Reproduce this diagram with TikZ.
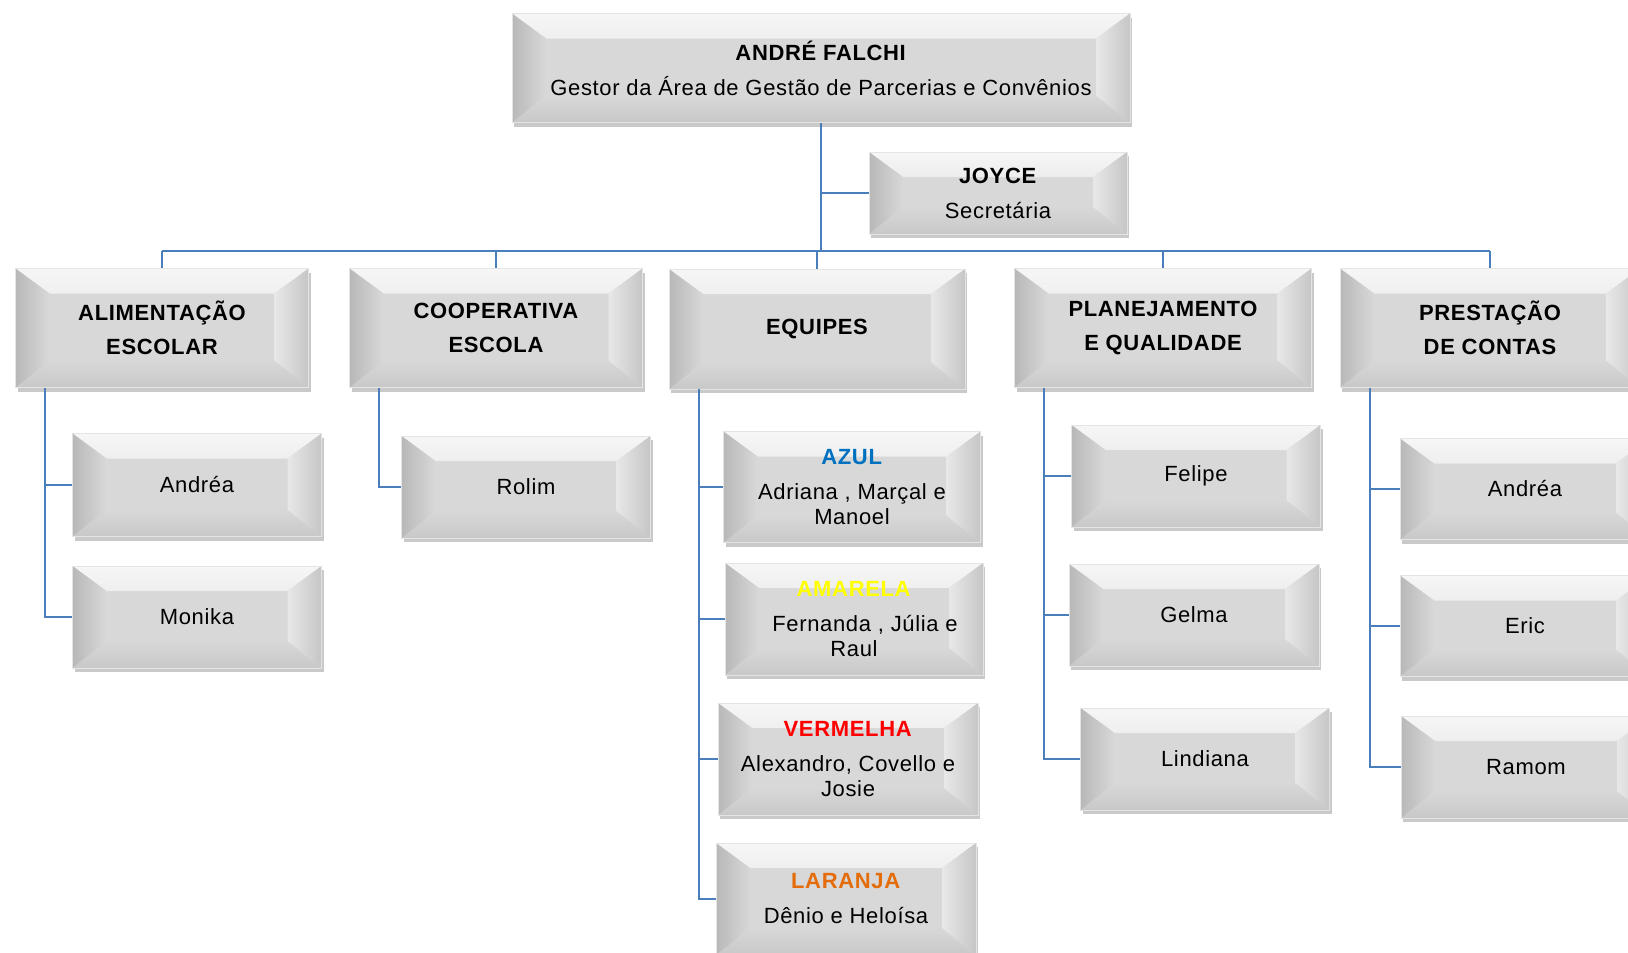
\documentclass[tikz,border=0pt]{standalone}
\usepackage{fontspec}
\setmainfont{Liberation Sans}[LetterSpace=3]
\usetikzlibrary{positioning,shadows}

\definecolor{bevface}{RGB}{216,216,216}
\definecolor{bevtop}{RGB}{246,246,246}
\definecolor{bevdark}{RGB}{184,184,184}
\definecolor{bevright}{RGB}{198,198,198}
\definecolor{bevbot}{RGB}{200,200,200}
\definecolor{bevline}{RGB}{228,228,228}
\definecolor{connblue}{RGB}{74,126,187}
\definecolor{azul}{RGB}{0,112,192}
\definecolor{amarela}{RGB}{255,255,0}
\definecolor{vermelha}{RGB}{255,0,0}
\definecolor{laranja}{RGB}{228,108,10}

\begin{document}
\begin{tikzpicture}[x=1pt,y=-1pt,
  boxsize/.style 2 args={minimum width=#1pt,minimum height=#2pt},
  bevel/.style={rectangle,fill=bevface,draw=bevline,line width=0.8pt,align=center,inner sep=0pt,
    font={\fontsize{22}{25}\selectfont},
    drop shadow={shadow xshift=2pt,shadow yshift=-4pt,opacity=0.3,fill=black!70},
    path picture={
      % top, bottom, left and right faces of the bevel
      \shade[top color=bevtop,bottom color=bevface] (path picture bounding box.north west)
        -- (path picture bounding box.north east)
        -- ([shift={(-34pt,-25pt)}]path picture bounding box.north east)
        -- ([shift={(34pt,-25pt)}]path picture bounding box.north west) -- cycle;
      \shade[top color=bevface,bottom color=bevbot] (path picture bounding box.south west)
        -- (path picture bounding box.south east)
        -- ([shift={(-34pt,27pt)}]path picture bounding box.south east)
        -- ([shift={(34pt,27pt)}]path picture bounding box.south west) -- cycle;
      \shade[left color=bevdark,right color=bevface] (path picture bounding box.north west)
        -- ([shift={(34pt,-25pt)}]path picture bounding box.north west)
        -- ([shift={(34pt,27pt)}]path picture bounding box.south west)
        -- (path picture bounding box.south west) -- cycle;
      \shade[left color=bevface!60!white,right color=bevright] (path picture bounding box.north east)
        -- ([shift={(-34pt,-25pt)}]path picture bounding box.north east)
        -- ([shift={(-34pt,27pt)}]path picture bounding box.south east)
        -- (path picture bounding box.south east) -- cycle;
    }},
  head/.style={bevel,font={\fontsize{22}{25}\selectfont\bfseries}},
  conn/.style={draw=connblue,line width=2pt}]

\useasboundingbox (0,0) rectangle (1628,953);

% top of the chart
\node[bevel,boxsize={618}{109}] (gestor) at (821,68) {\textbf{ANDRÉ FALCHI}\\[10pt]Gestor da Área de Gestão de Parcerias e Convênios};
\node[bevel,boxsize={258}{82}] (joyce) at (998,193) {\textbf{JOYCE}\\[10pt]Secretária};

% areas
\node[head,boxsize={293}{119}] (alim) at (162,328) {ALIMENTAÇÃO\\[9pt]ESCOLAR};
\node[head,boxsize={293}{119}] (coop) at (496,328) {COOPERATIVA\\[9pt]ESCOLA};
\node[head,boxsize={296}{120}] (equipes) at (817,329) {EQUIPES};
\node[head,boxsize={297}{119}] (plan) at (1163,328) {PLANEJAMENTO\\[9pt]E QUALIDADE};
\node[head,boxsize={300}{119}] (prest) at (1490,328) {PRESTAÇÃO\\[9pt]DE CONTAS};

% people
\node[bevel,boxsize={249}{103}] (andrea) at (197,485) {Andréa};
\node[bevel,boxsize={249}{102}] (monika) at (197,617) {Monika};
\node[bevel,boxsize={249}{102}] (rolim) at (526,487) {Rolim};

\node[bevel,boxsize={257}{111}] (azul) at (852,487) {\textcolor{azul}{\textbf{AZUL}}\\[10pt]Adriana , Marçal e\\Manoel};
\node[bevel,boxsize={258}{112}] (amarela) at (854,619) {\textcolor{amarela}{\textbf{AMARELA}}\\[10pt]\hspace*{22pt}Fernanda , Júlia e\\Raul};
\node[bevel,boxsize={260}{112}] (vermelha) at (848,759) {\textcolor{vermelha}{\textbf{VERMELHA}}\\[10pt]Alexandro, Covello e\\Josie};
\node[bevel,boxsize={260}{112}] (laranja) at (846,899) {\textcolor{laranja}{\textbf{LARANJA}}\\[10pt]Dênio e Heloísa};

\node[bevel,boxsize={249}{102}] (felipe) at (1196,476) {Felipe};
\node[bevel,boxsize={250}{102}] (gelma) at (1194,615) {Gelma};
\node[bevel,boxsize={249}{102}] (lindiana) at (1205,759) {Lindiana};

\node[bevel,boxsize={250}{101}] (andrea2) at (1525,489) {Andréa};
\node[bevel,boxsize={250}{101}] (eric) at (1525,626) {Eric};
\node[bevel,boxsize={250}{102}] (ramom) at (1526,767) {Ramom};

% connectors
\coordinate (bus) at (821,251);
\draw[conn] (gestor.south) -- (bus);
\draw[conn] (gestor.south |- joyce.west) -- (joyce.west);
\draw[conn] (alim.north |- bus) -- (prest.north |- bus);
\foreach \n in {alim,coop,equipes,plan,prest}
  \draw[conn] (\n.north |- bus) -- (\n.north);

\foreach \p/\c in {alim/andrea,alim/monika,coop/rolim,equipes/azul,equipes/amarela,
    equipes/vermelha,equipes/laranja,plan/felipe,plan/gelma,plan/lindiana,
    prest/andrea2,prest/eric,prest/ramom}
  \draw[conn] ([xshift=30pt]\p.south west) |- (\c.west);

\end{tikzpicture}
\end{document}
